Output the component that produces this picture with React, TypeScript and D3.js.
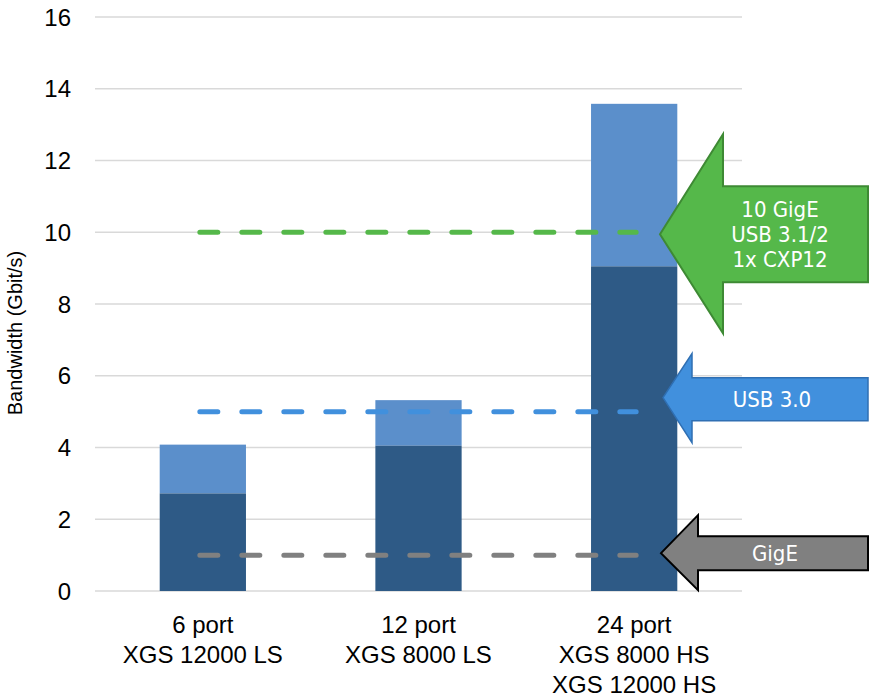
import React from "react";
import * as d3 from "d3";

// bar chart of switch bandwidth with reference lines + arrow callouts

const categories = ["6 port", "12 port", "24 port"];
const categoryLines = [
  ["6 port", "XGS 12000 LS"],
  ["12 port", "XGS 8000 LS"],
  ["24 port", "XGS 8000 HS", "XGS 12000 HS"],
];
const baseValues = [2.72, 4.05, 9.05];
const totalValues = [4.08, 5.32, 13.58];
const yTicks = [0, 2, 4, 6, 8, 10, 12, 14, 16];

const refValues = [10, 5, 1];
const refLabels = [["10 GigE", "USB 3.1/2", "1x CXP12"], ["USB 3.0"], ["GigE"]];
const refColors = ["#55b84a", "#4190dd", "#808080"];
const refStrokes = ["#3e8a34", "#2f6fb3", "#000000"];

const W = 871;
const H = 699;
const FONT = "'Liberation Sans', Arial, sans-serif";
const NARROW = "'Liberation Sans Narrow', 'DejaVu Sans Condensed', Roboto, sans-serif";

export default function App() {
  const x = d3.scaleBand<string>().domain(categories).range([95, 742]).paddingInner(0.6).paddingOuter(0.3);
  const y = d3.scaleLinear().domain([0, 16]).range([591, 17]);
  const bw = x.bandwidth();

  const lineStart = (x(categories[0]) as number) + bw / 2 - 3;
  const lineEnd = (x(categories[2]) as number) + bw / 2 + 2;

  // arrow shapes, tip offset from ref line etc
  const arrows = [
    { dy: 2, back: 723, headUp: 100, headDown: 99, shaftUp: 48, shaftDown: 48, tx: 780, tip: 660, sw: 2 },
    { dy: -14, back: 692, headUp: 44, headDown: 45, shaftUp: 20, shaftDown: 23, tx: 772, tip: 663, sw: 1.5 },
    { dy: -2, back: 698, headUp: 38, headDown: 37, shaftUp: 17, shaftDown: 17, tx: 775, tip: 661, sw: 2 },
  ];
  const right = 868;

  return (
    <svg width={W} height={H} style={{ position: "absolute", left: 0, top: 0 }} fontFamily={FONT}>
      <rect width={W} height={H} fill="#fff" />
      {yTicks.map((t) => (
        <g key={t}>
          <line x1={95} x2={742} y1={y(t)} y2={y(t)} stroke="#d9d9d9" strokeWidth={1.3} />
          <text x={71} y={y(t)} dy="0.36em" textAnchor="end" fontSize={24} fill="#000">
            {t}
          </text>
        </g>
      ))}
      <text
        transform={`translate(22,${333}) rotate(-90)`}
        textAnchor="middle"
        fontSize={20}
        fill="#000"
      >
        Bandwidth (Gbit/s)
      </text>

      {categories.map((c, i) => (
        <g key={c}>
          <rect x={x(c)} width={bw} y={y(totalValues[i])} height={y(baseValues[i]) - y(totalValues[i])} fill="#5b8fcb" />
          <rect x={x(c)} width={bw} y={y(baseValues[i])} height={y(0) - y(baseValues[i])} fill="#2e5a86" />
          {categoryLines[i].map((l, j) => (
            <text key={j} x={(x(c) as number) + bw / 2} y={633 + j * 30} textAnchor="middle" fontSize={24} fill="#000">
              {l}
            </text>
          ))}
        </g>
      ))}

      {refValues.map((v, i) => (
        <line
          key={v}
          x1={lineStart}
          x2={lineEnd}
          y1={y(v)}
          y2={y(v)}
          stroke={refColors[i]}
          strokeWidth={5}
          strokeLinecap="round"
          strokeDasharray="18 24"
        />
      ))}

      {arrows.map((a, i) => {
        const ty = y(refValues[i]) + a.dy;
        const pts = [
          [a.tip, ty],
          [a.back, ty - a.headUp],
          [a.back, ty - a.shaftUp],
          [right, ty - a.shaftUp],
          [right, ty + a.shaftDown],
          [a.back, ty + a.shaftDown],
          [a.back, ty + a.headDown],
        ];
        const lines = refLabels[i];
        const mid = ty + (a.shaftDown - a.shaftUp) / 2;
        return (
          <g key={i}>
            <polygon points={pts.map((p) => p.join(",")).join(" ")} fill={refColors[i]} stroke={refStrokes[i]} strokeWidth={a.sw} strokeLinejoin="miter" />
            {lines.map((l, j) => (
              <text
                key={j}
                x={a.tx}
                y={mid + (j - (lines.length - 1) / 2) * 25}
                dy="0.35em"
                textAnchor="middle"
                fontSize={22}
                fontFamily={NARROW}
                fill="#fff"
              >
                {l}
              </text>
            ))}
          </g>
        );
      })}
    </svg>
  );
}
